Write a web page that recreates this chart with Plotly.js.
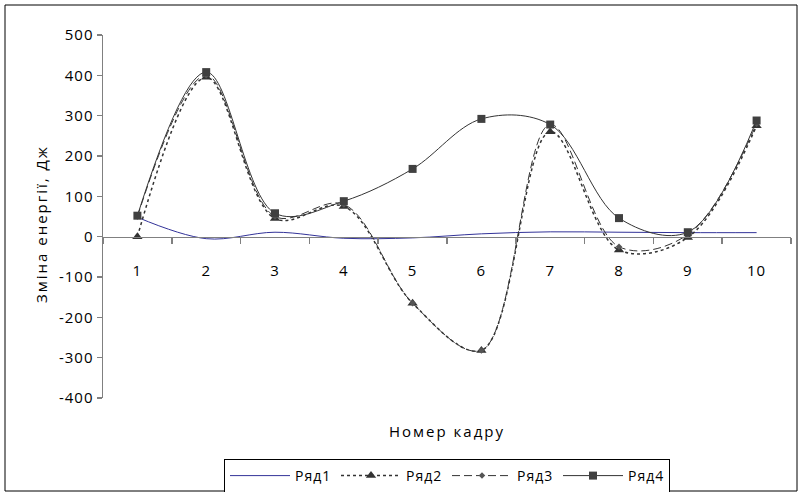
<!DOCTYPE html>
<html>
<head>
<meta charset="utf-8">
<script src="https://cdn.plot.ly/plotly-3.0.1.min.js"></script>
<style>
html,body{margin:0;padding:0;background:#fff;}
#chart{width:798px;height:492px;}
#chart text{letter-spacing:1px;}
#chart .annotation-text{letter-spacing:2px;}
</style>
</head>
<body>
<div id="chart"></div>
<script>
var categories = ['1','2','3','4','5','6','7','8','9','10'];
var ryad1 = [48, -5, 11, -4, -3, 7, 12, 11, 10, 10];
var ryad2 = [0, 395, 45, 75, -165, -282, 260, -33, -2, 275];
var ryad3 = [50, 400, 50, 80, -165, -282, 278, -25, 5, 280];
var ryad4 = [52, 408, 58, 88, 168, 292, 278, 46, 11, 288];
var seriesNames = ['Ряд1', 'Ряд2', 'Ряд3', 'Ряд4'];
var yTicks = [-400, -300, -200, -100, 0, 100, 200, 300, 400, 500];
var yTickLabels = ['-400', '-300', '-200', '-100', '0', '100', '200', '300', '400', '500'];
var xTitle = 'Номер кадру';
var yTitle = 'Зміна енергії, Дж';

var FONT = 'Open Sans, Noto Sans, DejaVu Sans, sans-serif';
var FS = 15;

var traces = [
  {x: categories, y: ryad1, name: seriesNames[0], type: 'scatter', mode: 'lines',
   line: {color: '#333399', width: 1, shape: 'spline', smoothing: 1}},
  {x: categories, y: ryad2, name: seriesNames[1], type: 'scatter', mode: 'lines+markers',
   line: {color: '#333333', width: 1.5, dash: 'dot', shape: 'spline', smoothing: 1},
   marker: {symbol: 'triangle-up', size: 9, color: '#333333'}},
  {x: categories, y: ryad3, name: seriesNames[2], type: 'scatter', mode: 'lines+markers',
   line: {color: '#333333', width: 1, dash: '8px,4px', shape: 'spline', smoothing: 1},
   marker: {symbol: 'diamond', size: 5, color: '#555555'}},
  {x: categories, y: ryad4, name: seriesNames[3], type: 'scatter', mode: 'lines+markers',
   line: {color: '#333333', width: 1, shape: 'spline', smoothing: 1},
   marker: {symbol: 'square', size: 8, color: '#404040'}}
];

var layout = {
  width: 798, height: 492,
  margin: {l: 103, r: 7, t: 35, b: 94, autoexpand: false},
  paper_bgcolor: '#ffffff', plot_bgcolor: '#ffffff',
  font: {family: FONT, size: FS, color: '#000000'},
  showlegend: true,
  xaxis: {
    type: 'category',
    range: [-0.5, 9.5],
    anchor: 'free',
    position: 400/900,
    showline: true, linecolor: '#808080', linewidth: 1.5,
    ticks: 'outside', tickson: 'boundaries', ticklen: 6, tickcolor: '#808080', tickwidth: 1.5,
    ticklabelstandoff: 20,
    showgrid: false, zeroline: false,
    tickfont: {family: FONT, size: FS}
  },
  yaxis: {
    range: [-400, 500],
    tickvals: yTicks,
    ticktext: yTickLabels,
    showline: true, linecolor: '#808080', linewidth: 1.5,
    ticks: 'outside', ticklen: 5, tickcolor: '#808080', tickwidth: 1.5,
    showgrid: false, zeroline: false,
    tickfont: {family: FONT, size: FS},
    automargin: false
  },
  annotations: [
    {text: xTitle, xref: 'paper', yref: 'paper', x: 0.5, y: (398-431)/363,
     xanchor: 'center', yanchor: 'middle', showarrow: false,
     font: {family: FONT, size: FS}},
    {text: yTitle, xref: 'paper', yref: 'paper', x: (41-103)/688, y: (398-224)/363,
     xanchor: 'center', yanchor: 'middle', textangle: -90, showarrow: false,
     font: {family: FONT, size: FS}}
  ],
  legend: {
    orientation: 'h', x: 0.5, xanchor: 'center',
    yref: 'container', y: 1 - 459/492, yanchor: 'top',
    bordercolor: '#000000', borderwidth: 1, bgcolor: '#ffffff',
    font: {family: FONT, size: 14},
    entrywidth: 36, itemwidth: 60, tracegroupgap: 0
  },
  shapes: [
    {type: 'rect', xref: 'paper', yref: 'paper',
     x0: (5-103)/688, x1: (797-103)/688, y0: (398-491)/363, y1: (398-5)/363,
     line: {color: '#000000', width: 1}, fillcolor: 'rgba(0,0,0,0)', layer: 'below'}
  ]
};

Plotly.newPlot('chart', traces, layout, {staticPlot: true, displayModeBar: false});
</script>
</body>
</html>
